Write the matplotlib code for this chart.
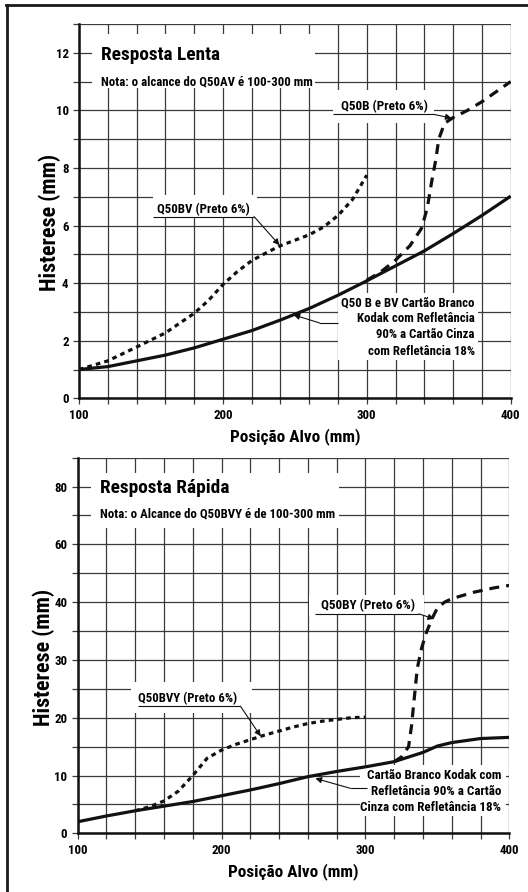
import matplotlib
matplotlib.use('Agg')
import matplotlib.pyplot as plt
import numpy as np
from matplotlib.patches import Rectangle
from matplotlib.lines import Line2D
from matplotlib import font_manager

names = {f.name for f in font_manager.fontManager.ttflist}
FAM = None
for cand in ['Roboto Condensed', 'Liberation Sans Narrow', 'Arial Narrow', 'Roboto']:
    if cand in names:
        FAM = cand
        break
if FAM is None:
    FAM = 'DejaVu Sans'
plt.rcParams['font.family'] = [FAM, 'DejaVu Sans']
plt.rcParams['font.weight'] = 'bold'

# ---------------- data: Resposta Lenta ----------------
lenta_x_solid = [100, 120, 140, 160, 180, 200, 220, 240, 260, 280, 300, 320, 340, 360, 380, 400]
lenta_y_solid = [1.0, 1.1, 1.3, 1.5, 1.75, 2.05, 2.35, 2.72, 3.12, 3.58, 4.08, 4.6, 5.12, 5.72, 6.35, 7.02]
lenta_x_bv = [100, 120, 140, 160, 180, 190, 200, 210, 220, 230, 240, 260, 270, 280, 290, 300]
lenta_y_bv = [1.0, 1.3, 1.78, 2.27, 2.95, 3.4, 3.95, 4.4, 4.78, 5.05, 5.3, 5.68, 5.95, 6.35, 6.9, 7.75]
lenta_x_b = [300, 310, 320, 330, 338, 342, 345, 348, 350, 354, 360, 370, 380, 390, 400]
lenta_y_b = [4.1, 4.4, 4.8, 5.3, 5.9, 6.6, 7.5, 8.3, 9.0, 9.55, 9.75, 10.0, 10.3, 10.65, 11.0]

# ---------------- data: Resposta Rápida ----------------
rapida_x_solid = [100, 120, 140, 160, 180, 200, 220, 240, 260, 280, 300, 320, 340, 350, 360, 380, 400]
rapida_y_solid = [2.0, 3.0, 3.9, 4.7, 5.5, 6.5, 7.5, 8.6, 9.8, 10.7, 11.5, 12.4, 14.0, 15.1, 15.7, 16.4, 16.6]
rapida_x_bvy = [140, 150, 160, 170, 180, 190, 200, 210, 220, 230, 240, 250, 260, 270, 280, 290, 300]
rapida_y_bvy = [3.9, 4.6, 5.6, 7.3, 10.0, 13.0, 14.4, 15.4, 16.2, 17.0, 17.7, 18.4, 19.0, 19.4, 19.7, 20.0, 20.1]
rapida_x_by = [320, 325, 330, 332, 334, 336, 339, 342, 346, 350, 355, 360, 375, 390, 400]
rapida_y_by = [12.4, 13.2, 15.0, 18.5, 23.5, 28.5, 32.0, 34.5, 37.0, 39.0, 40.0, 41.2, 43.4, 45.0, 45.8]

lenta_yticks = [0, 2, 4, 6, 8, 10, 12]
rapida_yticks = [0, 10, 20, 30, 40, 60, 80]
xticks = [100, 200, 300, 400]

GRID = '#3a3a3a'
INK = '#111111'
W, H = 528, 892
fig = plt.figure(figsize=(W / 100, H / 100), dpi=100)
renderer = fig.canvas.get_renderer()


def fit(txt, target_px, iters=2):
    for _ in range(iters):
        bb = txt.get_window_extent(renderer)
        if bb.width > 0:
            txt.set_fontsize(txt.get_fontsize() * target_px / bb.width)
    return txt


# tick label size from the width of "100"
probe = fig.text(0, 0, '100', fontsize=8, fontweight='bold')
fit(probe, 19.5)
TICK_FS = probe.get_fontsize()
probe.remove()

ax1 = fig.add_axes([79 / W, 1 - 398.3 / H, 431.7 / W, 374.3 / H])
ax2 = fig.add_axes([77.7 / W, 1 - 833.3 / H, 431.6 / W, 375.6 / H])


def fwd(y):
    y = np.asarray(y, dtype=float)
    return np.where(y <= 40, y, 40 + (y - 40) / 2)


def inv(y):
    y = np.asarray(y, dtype=float)
    return np.where(y <= 40, y, 40 + (y - 40) * 2)


ax2.set_yscale('function', functions=(fwd, inv))


def style(ax, ymax, yticks, yminor, ylab_x, ylab_y):
    ax.set_xlim(100, 400)
    ax.set_ylim(0, ymax)
    ax.set_xticks(xticks)
    ax.set_xticks(np.arange(100, 401, 20), minor=True)
    ax.set_yticks(yticks)
    ax.set_yticks(yminor, minor=True)
    ax.set_yticklabels([str(t) for t in yticks])
    ax.set_axisbelow(True)
    ax.grid(which='both', color=GRID, lw=0.9)
    for s in ['top', 'right']:
        ax.spines[s].set_visible(False)
    for s in ['left', 'bottom']:
        ax.spines[s].set_linewidth(1.8)
        ax.spines[s].set_color(INK)
    ax.tick_params(which='both', direction='out', length=4, width=0.9, color=GRID,
                   labelsize=TICK_FS, pad=3.5)
    for lab in ax.get_xticklabels() + ax.get_yticklabels():
        lab.set_fontweight('bold')
    xl = ax.set_xlabel('Posição Alvo (mm)', fontsize=11, fontweight='bold', labelpad=4.5)
    yl = ax.set_ylabel('Histerese (mm)', fontsize=12, fontweight='bold')
    fit(xl, 130)
    yl.set_rotation(0)
    fit(yl, 137)
    yl.set_rotation(90)
    ax.yaxis.set_label_coords(ylab_x, ylab_y)


style(ax1, 13, lenta_yticks, [1, 3, 5, 7, 9, 11, 13], -0.042, 0.471)
style(ax2, 90, rapida_yticks, [5, 15, 25, 35, 50, 70, 90], -0.053, 0.469)

LW = 2.3
DASH_SHORT = (1.45, 1.3)
DASH_LONG = (3.1, 2.2)


def white_box(ax, x0, x1, y0, y1):
    ax.add_patch(Rectangle((x0, y0), x1 - x0, y1 - y0, facecolor='white',
                           edgecolor='none', zorder=1.2))


def pointer(ax, pts, tip):
    xs = [p[0] for p in pts]
    ys = [p[1] for p in pts]
    ax.plot(xs, ys, color=INK, lw=0.8, zorder=4, solid_capstyle='butt')
    ax.annotate('', xy=tip, xytext=pts[-1],
                arrowprops=dict(arrowstyle='-|>', color=INK, lw=0.8,
                                mutation_scale=9, shrinkA=0, shrinkB=0), zorder=4)


def label(ax, x, y, s, width_px, fs=8, ha='left', ls=1.3):
    t = ax.text(x, y, s, fontsize=fs, fontweight='bold', va='center', ha=ha,
                linespacing=ls, zorder=4)
    fit(t, width_px)
    return t


# ---------------- top chart ----------------
ax1.plot(lenta_x_solid, lenta_y_solid, color=INK, lw=LW, zorder=3, solid_capstyle='butt')
ax1.plot(lenta_x_bv, lenta_y_bv, color=INK, lw=LW, zorder=3, dashes=DASH_SHORT)
ax1.plot(lenta_x_b, lenta_y_b, color=INK, lw=LW, zorder=3, dashes=DASH_LONG)

white_box(ax1, 108.8, 264, 10.78, 12.65)
label(ax1, 115.1, 11.92, 'Resposta Lenta', 119, fs=13)
label(ax1, 115.1, 11.0, 'Nota: o alcance do Q50AV é 100-300 mm', 211)

white_box(ax1, 276.7, 347, 9.56, 10.71)
label(ax1, 281.9, 10.15, 'Q50B (Preto 6%)', 86.6)
pointer(ax1, [(276.7, 9.865), (346.2, 9.865)], (359, 9.73))

white_box(ax1, 151.4, 224, 6.28, 7.05)
label(ax1, 153.9, 6.56, 'Q50BV (Preto 6%)', 92.5)
pointer(ax1, [(151.4, 6.31), (221.7, 6.31)], (239.3, 5.32))

white_box(ax1, 280.2, 377.6, 1.33, 3.65)
label(ax1, 375, 2.48, 'Q50 B e BV Cartão Branco\nKodak com Refletância\n90% a Cartão Cinza\ncom Refletância 18%',
      133, ha='right', ls=1.32)
pointer(ax1, [(280.2, 2.62), (267.0, 2.62)], (249, 2.9))

# ---------------- bottom chart ----------------
ax2.plot(rapida_x_solid, rapida_y_solid, color=INK, lw=LW, zorder=3, solid_capstyle='butt')
ax2.plot(rapida_x_bvy, rapida_y_bvy, color=INK, lw=LW, zorder=3, dashes=DASH_SHORT)
ax2.plot(rapida_x_by, rapida_y_by, color=INK, lw=LW, zorder=3, dashes=DASH_LONG)

white_box(ax2, 109.0, 281.6, 65.6, 84.6)
label(ax2, 115.5, 79.4, 'Resposta Rápida', 130.7, fs=13)
label(ax2, 115.5, 70.4, 'Nota: o Alcance do Q50BVY é de 100-300 mm', 233)

white_box(ax2, 261, 341, 37.7, 42.4)
label(ax2, 269.3, 39.5, 'Q50BY (Preto 6%)', 93.3)
pointer(ax2, [(264.6, 37.97), (337.2, 37.97)], (347.8, 37.1))

white_box(ax2, 137, 221, 20.9, 26.1)
label(ax2, 141.7, 23.3, 'Q50BVY (Preto 6%)', 99.3)
pointer(ax2, [(141.7, 22.0), (213.1, 22.0)], (227.2, 16.8))

white_box(ax2, 296, 397.5, 3.0, 11.8)
label(ax2, 394.5, 7.2, 'Cartão Branco Kodak com\nRefletância 90% a Cartão\nCinza com Refletância 18%',
      140.7, ha='right', ls=1.32)
pointer(ax2, [(300.9, 7.8), (289.3, 7.8)], (265.2, 9.5))

# outer frame (top and left edges)
fig.add_artist(Line2D([7.2 / W, 7.2 / W], [0, 1 - 4.7 / H], transform=fig.transFigure,
                      color='#1a1a1a', lw=2.0))
fig.add_artist(Line2D([7.2 / W - 0.002, 1], [1 - 4.7 / H, 1 - 4.7 / H], transform=fig.transFigure,
                      color='#1a1a1a', lw=2.0))

fig.savefig('out.png', dpi=100)
